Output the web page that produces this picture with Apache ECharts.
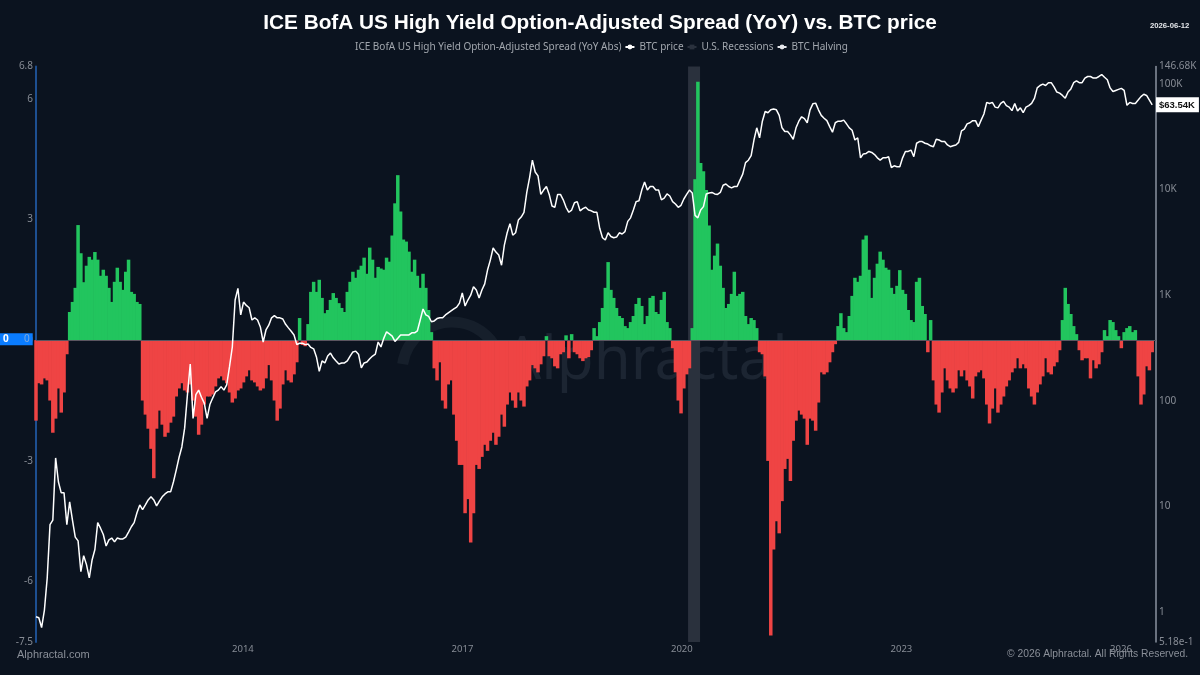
<!DOCTYPE html>
<html>
<head>
<meta charset="utf-8">
<style>html,body{margin:0;padding:0;background:#0b131f}#c{width:1200px;height:675px}</style>
<script src="https://cdn.jsdelivr.net/npm/echarts@6/dist/echarts.min.js"></script>
</head>
<body>
<div id="c"></div>
<script>
const startDate = '2011-03-05';
const stepDays = 14;
const spreadValues = [
-2.0,-1.07,-1.1,-0.95,-1.0,-1.5,-2.3,-1.95,-1.2,-1.8,-1.3,-0.35,
0.7,0.95,1.3,2.86,2.16,1.44,1.85,2.07,2.0,2.19,2.0,1.6,1.75,1.6,1.3,0.95,1.45,1.8,1.45,1.25,1.7,2.0,1.2,1.15,0.95,0.9,
-1.5,-1.85,-2.2,-2.7,-3.43,-2.2,-1.75,-2.1,-2.4,-2.3,-2.05,-1.9,-1.4,-1.2,-1.07,-1.25,-1.3,-1.1,-1.5,-1.9,-2.35,-2.1,-1.6,-1.4,-1.4,-1.35,-1.15,-0.95,-0.9,-1.0,-1.07,-1.3,-1.55,-1.45,-1.25,-1.2,-1.05,-0.9,-0.75,-1.0,-1.05,-1.15,-1.25,-1.2,-0.95,-0.62,-1.0,-1.5,-2.0,-1.7,-1.1,-0.75,-1.0,-1.05,-0.85,-0.55,
0.55,-0.12,-0.15,
0.4,1.2,1.45,1.2,1.5,1.05,0.67,0.75,1.0,1.17,1.05,0.92,0.8,0.7,1.2,1.45,1.7,1.55,1.75,1.85,2.05,1.65,2.3,2.0,1.55,1.82,1.78,1.75,2.05,1.95,2.6,3.4,4.1,3.2,2.5,2.45,2.2,1.7,2.0,1.6,1.3,1.65,1.3,0.75,0.2,
-0.7,-1.0,-0.55,-1.5,-1.7,-1.1,-1.0,-1.85,-2.5,-3.1,-3.1,-4.3,-3.95,-5.03,-4.3,-3.1,-3.2,-2.9,-2.6,-2.75,-2.5,-2.3,-2.6,-2.4,-1.85,-2.15,-1.6,-1.3,-1.5,-1.68,-1.3,-1.5,-1.65,-1.15,-1.0,-0.62,-0.7,-0.8,-0.6,-0.4,0.1,-0.4,-0.45,-0.65,-0.7,-0.35,-0.3,0.12,-0.45,0.15,-0.3,-0.35,-0.45,-0.52,-0.45,-0.42,-0.25,
0.3,0.1,0.45,0.8,1.3,1.94,1.25,1.05,0.8,0.6,0.55,0.35,0.3,0.45,0.6,0.9,1.05,0.85,0.4,0.6,1.05,1.1,0.7,0.65,1.0,1.2,0.45,0.3,
-0.2,-0.8,-1.5,-1.82,-1.2,-0.85,-0.7,
0.3,4.0,6.42,4.4,4.2,3.73,2.85,1.75,2.1,2.4,1.85,1.3,0.8,0.9,1.15,1.7,1.1,1.15,1.2,0.6,0.4,0.55,0.5,0.3,
-0.3,-0.35,-0.9,-3.0,-7.34,-5.2,-4.5,-4.8,-4.0,-3.2,-2.95,-3.5,-2.5,-2.0,-1.75,-1.85,-1.95,-2.6,-1.95,-2.0,-2.25,-1.55,-0.8,-0.85,-0.8,-0.55,-0.3,-0.1,
0.35,0.67,0.3,0.2,0.6,1.1,1.55,1.45,1.6,2.5,2.6,1.75,1.05,1.55,1.9,2.2,2.0,1.8,1.75,1.3,1.15,1.35,1.74,1.25,1.15,0.75,0.5,0.45,1.45,1.55,0.85,0.65,-0.3,0.5,
-1.0,-1.6,-1.8,-1.3,-0.7,-1.0,-1.2,-1.3,-1.2,-0.75,-0.9,-0.75,-1.0,-1.15,-1.45,-0.9,-0.8,-0.75,-0.95,-1.6,-2.07,-1.7,-1.2,-1.8,-1.6,-1.4,-1.15,-1.0,-0.8,-0.7,-0.45,-0.7,-0.6,-0.7,-1.2,-1.4,-1.6,-1.3,-1.1,-0.9,-0.45,-0.8,-0.85,-0.65,-0.55,-0.25,
0.5,1.3,0.9,0.65,0.35,0.15,
-0.25,-0.5,-0.45,-0.45,-0.95,-0.5,-0.7,-0.6,-0.3,
0.25,0.1,0.5,0.45,0.25,0.1,-0.2,0.2,0.3,0.35,0.2,0.25,
-0.9,-1.6,-1.35,-0.65,-0.75,-0.3
];
const btcPrice = [
0.9,0.88,0.71,1.04,2.1,6.7,7.4,28.7,17,13.4,13.4,6.7,11,7.4,5.1,4.7,2.4,3.4,2.8,2.1,3.1,3.9,7,6.2,5.4,4.2,4.8,5,4.6,5,4.9,4.9,5.1,5.7,6.4,7,8.7,10.3,9.3,10.3,11.5,12.3,11.5,10.1,11.2,12.3,13.1,13.7,13.7,17,22,29,36.5,55,114,223,68,114,126,108,95,68,92,106,121,126,136,126,141,210,323,901,1160,650,860,800,760,582,610,582,500,360,468,520,610,640,610,610,595,530,490,455,420,340,350,350,340,345,320,310,260,190,238,228,265,283,255,238,223,228,228,238,265,290,295,276,205,228,233,250,265,276,360,323,390,450,430,410,365,390,420,420,420,420,440,440,460,582,740,650,630,560,570,600,610,610,650,680,710,740,770,840,1050,790,900,1000,1200,1120,940,1120,1280,1730,2150,2800,2560,2400,1920,2980,3900,4760,3700,3900,5150,5500,6100,9400,13000,19000,14700,13500,9000,9900,10700,9000,7000,6800,9000,9000,8000,6800,6100,6400,7500,7700,6300,6600,6800,6400,6300,6100,6100,4300,3500,3330,3900,3600,3500,3550,3900,3800,4000,5000,5400,6400,7700,7850,9900,11800,9900,10700,10700,9900,9900,8000,8300,9100,8700,7700,7300,6800,7100,8150,9000,9900,9300,5700,5400,6400,6900,9100,9300,9400,9100,9000,9400,11000,11300,10700,10400,10700,10700,12300,14000,18000,19000,21000,29500,38500,31000,44500,55000,53500,57000,58000,57000,50500,38500,35500,35500,33000,30000,38500,44500,49000,47000,43000,57000,65000,66000,57000,50500,47500,45000,39500,35000,43000,44500,44500,45500,42000,38500,36500,29500,31000,20000,21800,22000,23000,22500,21500,20000,19000,20000,20000,20500,16200,16800,16500,16500,20000,23000,23000,23700,20500,27500,28500,28500,27500,27000,26000,25500,30000,29500,28500,28500,26500,25500,26000,26500,28000,36000,37500,42000,43000,45000,45000,39500,45500,52000,67000,65500,67000,60500,59500,65500,68500,62500,60500,56000,65500,55500,59500,53500,60500,62500,65500,73000,92000,97000,100000,97000,103000,103000,94000,84000,82000,78000,73500,84000,90000,103000,107000,103000,103000,114000,118000,118000,114000,114000,118000,123000,116000,110000,92000,85000,87000,89000,91000,87000,63000,67000,65500,65500,70500,76000,80000,78000,70500,63540
];
const recessionStart = '2020-02-01';
const recessionEnd = '2020-04-01';
const xTickYears = ['2014-01-01','2017-01-01','2020-01-01','2023-01-01','2026-01-01'];
const leftTicks = [-7.5,-6,-3,0,3,6,6.8];
const rightTicks = [0.518,1,10,100,1000,10000,100000,146680];
const rightTickLabels = ['5.18e-1','1','10','100','1K','10K','100K','146.68K'];
const lastPrice = 63540;
const lastPriceLabel = '$63.54K';

const DAY = 86400000;
const ms = d => Date.parse(d + 'T00:00:00Z');
const t0 = ms(startDate);
const dateOf = i => t0 + i * stepDays * DAY;
const spreadData = spreadValues.map((v, i) => [dateOf(i), v]);
const btcData = btcPrice.map((v, i) => [dateOf(i), v]);

const GREEN = '#22c55e', RED = '#ef4444', BG = '#0b131f', AXT = '#878c95', LEG = '#a2a7ae';
const SANS = '"Noto Sans", "Open Sans", sans-serif';
const ARIAL = '"Liberation Sans", Arial, sans-serif';

const chart = echarts.init(document.getElementById('c'), null, {renderer: 'canvas'});
chart.setOption({
  animation: false,
  backgroundColor: BG,
  title: [
    {text: 'ICE BofA US High Yield Option-Adjusted Spread (YoY) vs. BTC price', left: 'center', top: 8,
      textStyle: {color: '#fff', fontFamily: ARIAL, fontWeight: 'bold', fontSize: 20.8}},
    {text: '2026-06-12', left: 1145, top: 17, textStyle: {color: '#e5e7eb', fontFamily: ARIAL, fontWeight: 'bold', fontSize: 7.7}},
    {text: 'Alphractal.com', left: 12, top: 644, textStyle: {color: '#8a8f98', fontFamily: ARIAL, fontWeight: 'normal', fontSize: 11}},
    {text: '© 2026 Alphractal. All Rights Reserved.', left: 1002, top: 644, textStyle: {color: '#8a8f98', fontFamily: ARIAL, fontWeight: 'normal', fontSize: 10.3}}
  ],
  legend: {
    top: 37, left: 336, itemGap: 3, itemWidth: 9, itemHeight: 6,
    textStyle: {color: LEG, fontFamily: SANS, fontSize: 10},
    selectedMode: false,
    data: [
      {name: 'ICE BofA US High Yield Option-Adjusted Spread (YoY Abs)', icon: 'none', itemStyle: {opacity: 0}},
      {name: 'BTC price'},
      {name: 'U.S. Recessions'},
      {name: 'BTC Halving'}
    ]
  },
  grid: {left: 36, right: 44, top: 66.5, bottom: 33, containLabel: false},
  xAxis: {
    type: 'value',
    min: ms('2011-03-05'),
    max: ms('2026-06-25'),
    axisLine: {show: false},
    axisTick: {show: false},
    splitLine: {show: false},
    axisLabel: {
      color: AXT, fontFamily: SANS, fontSize: 9.5, margin: 2,
      customValues: xTickYears.map(ms),
      formatter: v => String(new Date(v).getUTCFullYear())
    }
  },
  yAxis: [
    {
      type: 'value', min: -7.5, max: 6.8, position: 'left',
      axisLine: {show: true, onZero: false, lineStyle: {color: '#1d4f91', width: 2}},
      axisTick: {show: false}, splitLine: {show: false},
      axisLabel: {color: AXT, fontFamily: SANS, fontSize: 10, margin: 3, customValues: leftTicks, formatter: v => String(v)},
      axisPointer: {
        show: true, status: 'show', value: 0, triggerTooltip: false,
        lineStyle: {color: 'transparent', width: 0},
        label: {show: true, margin: 0, formatter: () => '{a|0}{b|0}', backgroundColor: '#0a7cff', borderRadius: 0,
          padding: [1, 3, 1, 3],
          rich: {
            a: {color: '#fff', fontWeight: 'bold', fontFamily: SANS, fontSize: 10, width: 21, align: 'left'},
            b: {color: '#7fa9dc', fontFamily: SANS, fontSize: 10, align: 'right'}
          }}
      }
    },
    {
      type: 'log', logBase: 10, min: 0.518, max: 146680, position: 'right',
      axisLine: {show: true, onZero: false, lineStyle: {color: '#8b93a0', width: 1.5}},
      axisTick: {show: false}, splitLine: {show: false},
      axisLabel: {
        color: AXT, fontFamily: SANS, fontSize: 10, margin: 3, customValues: rightTicks,
        formatter: v => {
          const k = rightTicks.findIndex(t => Math.abs(Math.log10(t) - Math.log10(v)) < 0.01);
          return k >= 0 ? rightTickLabels[k] : '';
        }
      },
      axisPointer: {
        show: true, status: 'show', value: lastPrice, triggerTooltip: false,
        lineStyle: {color: 'transparent', width: 0},
        label: {show: true, margin: 0, formatter: () => lastPriceLabel, backgroundColor: '#fff', color: '#111', fontWeight: 'bold',
          fontFamily: ARIAL, fontSize: 9.5, padding: [3, 4, 2, 3], borderRadius: 0}
      }
    }
  ],
  tooltip: {show: false},
  graphic: [
    {type: 'text', z: 0, left: 503, top: 332, silent: true,
      style: {text: 'Alphractal', fill: '#1c2532', font: '60px "Noto Sans", sans-serif'}},
    {type: 'arc', z: 0, silent: true, shape: {cx: 452, cy: 372, r: 50, startAngle: Math.PI * 1.05, endAngle: Math.PI * 1.85},
      style: {stroke: '#161f2b', lineWidth: 11, fill: null}}
  ],
  series: [
    {
      name: 'U.S. Recessions', type: 'line', yAxisIndex: 0, data: [],
      symbol: 'rect', symbolSize: 4,
      itemStyle: {color: '#2a313d'}, lineStyle: {color: '#2a313d', width: 2},
      z: 1,
      markArea: {silent: true, itemStyle: {color: '#2a313d'}, data: [[
        {xAxis: ms(recessionStart)},
        {xAxis: ms(recessionEnd)}
      ]]}
    },
    {
      name: 'ICE BofA US High Yield Option-Adjusted Spread (YoY Abs)', type: 'bar', yAxisIndex: 0,
      data: spreadData, barWidth: 3.5, z: 2,
      itemStyle: {color: p => (p.value[1] >= 0 ? GREEN : RED)},
      markLine: {silent: true, symbol: 'none', label: {show: false}, animation: false,
        lineStyle: {color: '#5b5560', width: 1, type: 'solid'}, data: [{yAxis: 0}]}
    },
    {
      name: 'BTC price', type: 'line', yAxisIndex: 1, data: btcData, z: 5,
      symbol: 'circle', symbolSize: 4, showSymbol: false, smooth: false,
      itemStyle: {color: '#fff'}, lineStyle: {color: '#fff', width: 1.5}
    },
    {
      name: 'BTC Halving', type: 'line', yAxisIndex: 1, data: [], z: 5,
      symbol: 'circle', symbolSize: 4,
      itemStyle: {color: '#e5e7eb'}, lineStyle: {color: '#e5e7eb', width: 1.5}
    }
  ]
});
</script>
</body>
</html>
